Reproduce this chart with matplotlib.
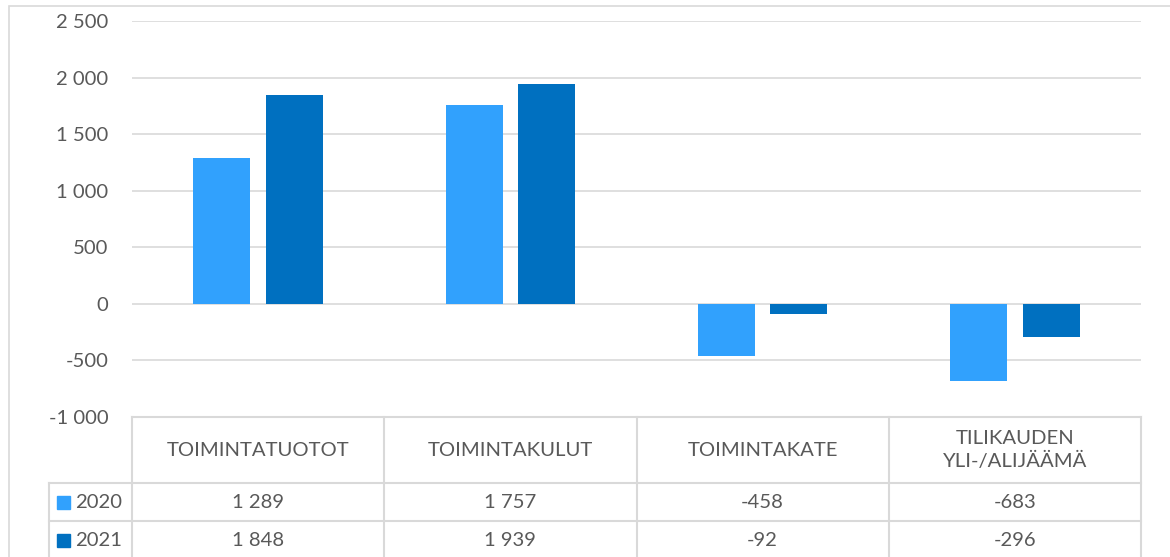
import matplotlib
matplotlib.use("Agg")
import matplotlib.pyplot as plt
import numpy as np
from matplotlib.lines import Line2D
from matplotlib.patches import Rectangle
from matplotlib.ticker import FuncFormatter, MultipleLocator
from matplotlib.transforms import blended_transform_factory

# data
categories = ["TOIMINTATUOTOT", "TOIMINTAKULUT", "TOIMINTAKATE", "TILIKAUDEN\nYLI-/ALIJÄÄMÄ"]
series_names = ["2020", "2021"]
values_2020 = [1289, 1757, -458, -683]
values_2021 = [1848, 1939, -92, -296]
colors = ["#31A1FD", "#0070C0"]

W, H = 1170, 557
TEXT = "#595959"
GRID = "#D9D9D9"
FS = 14.6
plt.rcParams["font.family"] = ["Lato", "DejaVu Sans"]


def fx(px):
    return px / W


def fy(py):
    return 1 - py / H


def fmt(v, _pos=None):
    s = f"{abs(int(round(v))):,}".replace(",", " ")
    return "-" + s if v < 0 else s


fig = plt.figure(figsize=(W / 100, H / 100), dpi=100)

# outer chart frame
fig.add_artist(Rectangle((fx(9), fy(570)), fx(1175 - 9), fy(6) - fy(570),
                         transform=fig.transFigure, fill=False, edgecolor=GRID, lw=1.2))

left, right, top, bottom = 132, 1141, 21, 417
ax = fig.add_axes([fx(left), fy(bottom), fx(right - left), fy(top) - fy(bottom)])

x = np.arange(len(categories))
bw = 0.226
off = 0.144
ax.bar(x - off, values_2020, bw, color=colors[0], zorder=3)
ax.bar(x + off, values_2021, bw, color=colors[1], zorder=3)

ax.set_xlim(-0.5, len(categories) - 0.5)
ax.set_ylim(-1000, 2500)
ax.yaxis.set_major_locator(MultipleLocator(500))
ax.yaxis.set_major_formatter(FuncFormatter(fmt))
ax.grid(axis="y", color=GRID, lw=1.2, zorder=0)
ax.set_xticks([])
ax.tick_params(axis="y", length=0, pad=17, labelsize=FS, labelcolor=TEXT)
for s in ax.spines.values():
    s.set_visible(False)

# data table below the plot
tr = blended_transform_factory(ax.transData, fig.transFigure)
row_y = [417, 483, 521, 559]
table_right = len(categories) - 0.5


def hline(py, x0, x1, trans):
    fig.add_artist(Line2D([x0, x1], [fy(py), fy(py)], transform=trans, color=GRID, lw=1.5))


def vline(xv, y0, y1, trans):
    fig.add_artist(Line2D([xv, xv], [fy(y0), fy(y1)], transform=trans, color=GRID, lw=1.5))


hline(row_y[0], -0.5, table_right, tr)
# legend column starts at 49 px
legend_left_data = ax.transData.inverted().transform((49, 0))[0]
for py in row_y[1:]:
    hline(py, legend_left_data, table_right, tr)
for b in np.arange(-0.5, len(categories), 1.0):
    vline(b, row_y[0], 565, tr)
vline(legend_left_data, row_y[1], 565, tr)

for i, cat in enumerate(categories):
    fig.text(x[i], fy((row_y[0] + row_y[1]) / 2), cat, transform=tr, ha="center", va="center",
             fontsize=FS, color=TEXT, linespacing=1.3)

for r, (name, vals, col) in enumerate(zip(series_names, [values_2020, values_2021], colors)):
    yc = fy((row_y[r + 1] + row_y[r + 2]) / 2)
    fig.add_artist(Rectangle((fx(57), yc - fy(0) + fy(6.5)), fx(13), fy(0) - fy(13),
                             transform=fig.transFigure, color=col))
    fig.text(fx(75), yc, name, ha="left", va="center", fontsize=FS, color=TEXT)
    for i, v in enumerate(vals):
        fig.text(x[i], yc, fmt(v), transform=tr, ha="center", va="center",
                 fontsize=FS, color=TEXT)

fig.savefig("out.png", dpi=100, facecolor="white")
